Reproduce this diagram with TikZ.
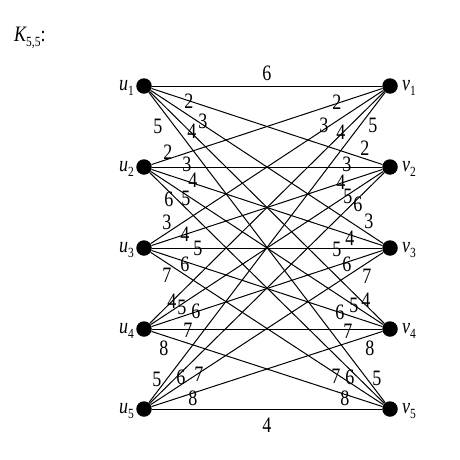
\documentclass[tikz,border=0pt]{standalone}
\usepackage{fontspec}
\setmainfont{Liberation Serif}[FakeStretch=0.82]
\newcommand{\vlab}[2]{{\itshape #1}\raisebox{-0.45ex}{\fontsize{14}{14}\selectfont #2}}
\begin{document}
\begin{tikzpicture}[x=1pt,y=-1pt,
  dot/.style={circle,fill=black,inner sep=0pt,minimum size=15.5pt},
  edge/.style={line width=1pt,black},
  wlab/.style={inner sep=0pt,font=\fontsize{22}{22}\selectfont},
  nlab/.style={inner sep=0pt,font=\fontsize{22}{22}\selectfont}]
\useasboundingbox (0,0) rectangle (460,460);
\node[nlab,anchor=west] (title) at (14,38) {{\itshape K}\raisebox{-0.45ex}{\fontsize{14}{14}\selectfont 5,5}:};
\foreach \i/\y in {1/86,2/167,3/248,4/329,5/409} {
  \node[dot] (u\i) at (144,\y) {};
  \node[dot] (v\i) at (390,\y) {};
  \node[nlab,anchor=east] (lu\i) at (134,\y+2) {\vlab{u}{\i}};
  \node[nlab,anchor=west] (lv\i) at (402,\y+2) {\vlab{v}{\i}};
}
\foreach \i in {1,...,5} {
  \foreach \j in {1,...,5} {
    \draw[edge] (u\i) -- (v\j);
  }
}
% middle labels
\node[wlab] (m11) at (267,73) {6};
\node[wlab] (m55) at (267,425) {4};
% u-side labels
\foreach \n/\x/\y/\t in {
  a12/189/101/2, a13/203/121/3, a14/192/131/4, a15/158/126/5,
  a21/168/152/2, a22/187/164/3, a23/193/180/4, a24/186/198/5, a25/169/199/6,
  a31/167/222/3, a32/185/234/4, a33/198/248/5, a34/185/264/6, a35/167/275/7,
  a41/172/301/4, a42/182/307/5, a43/196/311/6, a44/188/330/7, a45/164/348/8,
  a51/157/379/5, a52/181/377/6, a53/199/374/7, a54/193/398/8} {
  \node[wlab] (\n) at (\x,\y) {\t};
}
% v-side labels
\foreach \n/\x/\y/\t in {
  b21/337/102/2, b31/324/125/3, b41/341/132/4, b51/373/125/5,
  b12/365/148/2, b22/347/164/3, b32/341/182/4, b42/348/196/5, b52/358/204/6,
  b13/369/221/3, b23/350/238/4, b33/337/249/5, b43/347/264/6, b53/367/276/7,
  b14/366/300/4, b24/354/305/5, b34/340/312/6, b44/348/331/7, b54/370/348/8,
  b35/336/376/7, b25/350/377/6, b15/377/378/5, b45/345/398/8} {
  \node[wlab] (\n) at (\x,\y) {\t};
}
\end{tikzpicture}
\end{document}
